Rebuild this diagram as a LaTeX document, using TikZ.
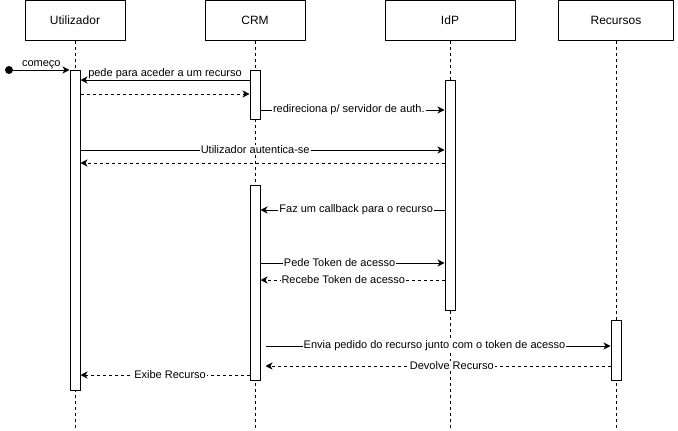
\documentclass[tikz,border=0pt]{standalone}
\usepackage{fontspec}
\setmainfont{Liberation Sans}
\usetikzlibrary{arrows.meta}

\begin{document}
\begin{tikzpicture}[x=1pt,y=-1pt,>={Stealth[length=7pt,width=7pt,inset=2pt]},
  actor/.style={draw,line width=1pt,minimum width=#1,minimum height=40pt,font=\fontsize{12}{14}\selectfont},
  life/.style={line width=1pt,dash pattern=on 3pt off 3pt},
  act/.style={draw,fill=white,line width=1pt,minimum width=10pt,minimum height=#1,anchor=north,inner sep=0pt},
  msg/.style={->,line width=1pt},
  ret/.style={->,line width=1pt,dash pattern=on 3pt off 3pt},
  lbl/.style={fill=white,inner sep=1pt,font=\fontsize{11}{13}\selectfont}]
\useasboundingbox (0,0) rectangle (678,431);

% participants
\node [actor=100pt] (u) at (75,20) {Utilizador};
\node [actor=100pt] (c) at (255,20) {CRM};
\node [actor=130pt] (i) at (450,20) {IdP};
\node [actor=115pt] (r) at (616,20) {Recursos};

\coordinate (uend) at (75,431);
\coordinate (cend) at (255,431);
\coordinate (iend) at (450,431);
\coordinate (rend) at (616,431);
\draw [life] (u) -- (uend);
\draw [life] (c) -- (cend);
\draw [life] (i) -- (iend);
\draw [life] (r) -- (rend);

% activations
\node [act=320pt] (ua) at (75,70) {};
\node [act=49pt] (ca) at (255,70) {};
\node [act=230pt] (ia) at (450,80) {};
\node [act=195pt] (cb) at (255,185) {};
\node [act=60pt] (ra) at (616,320) {};

\node [circle,fill,inner sep=0pt,minimum size=8pt] (start) at (9,70) {};

% messages
\draw [msg] (start) -- (ua.west |- 0,70) node [lbl,above,midway,fill=none] {começo};
\draw [msg] (ca.west |- 0,80) -- (ua.east |- 0,80) node [lbl,above,midway,fill=none] {pede para aceder a um recurso};
\draw [ret] (ua.east |- 0,94) -- (ca.west |- 0,94);
\draw [msg] (ca.east |- 0,110) -- (ia.west |- 0,110) node [lbl,pos=.48] {redireciona p/ servidor de auth.};
\draw [msg] (ua.east |- 0,150) -- (ia.west |- 0,150) node [lbl,pos=.48] {Utilizador autentica-se};
\draw [ret] (ia.west |- 0,163) -- (ua.east |- 0,163);
\draw [msg] (ia.west |- 0,210) -- (cb.east |- 0,210) node [lbl,pos=.48] {Faz um callback para o recurso};
\draw [msg] (cb.east |- 0,263) -- (ia.west |- 0,263) node [lbl,pos=.43] {Pede Token de acesso};
\draw [ret] (ia.west |- 0,280) -- (cb.east |- 0,280) node [lbl,pos=.55] {Recebe Token de acesso};
\draw [msg] ([xshift=5pt]cb.east |- 0,346) -- (ra.west |- 0,346) node [lbl,pos=.49] {Envia pedido do recurso junto com o token de acesso};
\draw [ret] (ra.west |- 0,366) -- ([xshift=5pt]cb.east |- 0,366) node [lbl,pos=.46] {Devolve Recurso};
\draw [ret] (cb.west |- 0,375) -- (ua.east |- 0,375) node [lbl,pos=.47] {Exibe Recurso};
\end{tikzpicture}
\end{document}
